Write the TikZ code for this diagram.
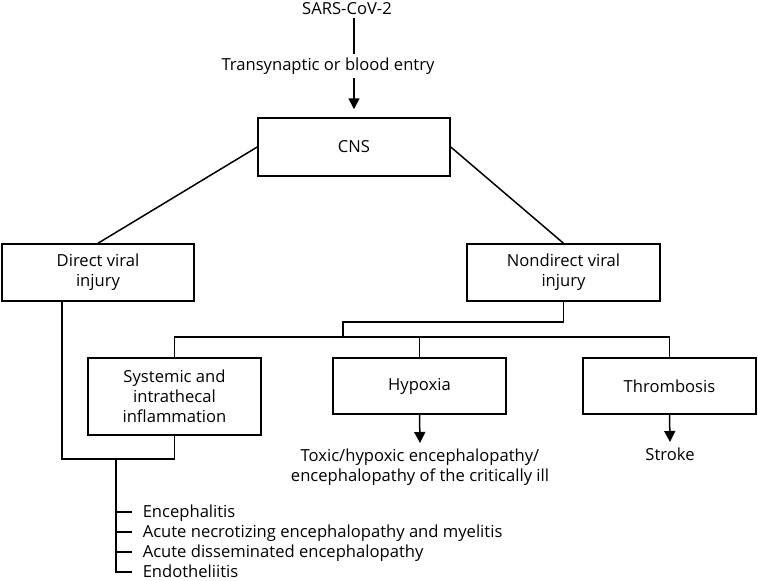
\documentclass[tikz,border=0pt]{standalone}
\usepackage{fontspec}
\setmainfont{Open Sans}
\usetikzlibrary{arrows.meta}
\tikzset{
  box/.style={draw, line width=1.5pt, align=center, minimum height=57pt, inner sep=2pt},
  txt/.style={align=center, inner sep=3pt},
  item/.style={anchor=base west, inner sep=0pt},
  arr/.style={-{Triangle[width=11pt,length=11pt]}, line width=1.5pt}
}
\begin{document}
\begin{tikzpicture}[x=1pt, y=-1pt, font=\fontsize{16.6}{20}\selectfont, line width=1.5pt]
    \useasboundingbox (0,0) rectangle (758,581);
    \node[txt, anchor=base] (sars) at (347,14) {SARS-CoV-2};
    \node[txt, anchor=base] (entry) at (328,70) {Transynaptic or blood entry};
    \node[box, minimum width=192pt, minimum height=58pt] (cns) at (354,147) {CNS};
    \node[box, minimum width=192pt] (direct) at (98,272.5) {Direct viral\\injury};
    \node[box, minimum width=193pt] (nondirect) at (563.5,272.5) {Nondirect viral\\injury};
    \node[box, minimum width=173pt, minimum height=77pt] (systemic) at (174.5,396.5) {Systemic and\\intrathecal\\inflammation};
    \node[box, minimum width=173pt, minimum height=56pt] (hypoxia) at (419.5,386) {Hypoxia};
    \node[box, minimum width=173pt, minimum height=56pt] (thrombosis) at (669.5,386) {Thrombosis};
    \node[txt, anchor=north] (toxic) at (420,445) {Toxic/hypoxic encephalopathy/\\encephalopathy of the critically ill};
    \node[txt, anchor=north] (stroke) at (670,444) {Stroke};
    \node[item] (enc) at (142,517) {Encephalitis};
    \node[item] (anem) at (142,537) {Acute necrotizing encephalopathy and myelitis};
    \node[item] (adem) at (142,557) {Acute disseminated encephalopathy};
    \node[item] (endo) at (142,577) {Endotheliitis};
    \coordinate (elbow) at (343,322);
    \coordinate (bus) at (343,337);
    \coordinate (jn) at (116,459);
    \draw (sars.south -| cns.north) -- (entry.north -| cns.north);
    \draw[arr] (entry.south -| cns.north) -- ([yshift=8]cns.north);
    \draw (cns.west) -- (direct.north);
    \draw (cns.east) -- (nondirect.north);
    \draw (nondirect.south) |- (elbow) -- (bus);
    \draw (systemic.north) |- (bus) -| (thrombosis.north);
    \draw (bus -| hypoxia.north) -- (hypoxia.north);
    \draw[arr] (hypoxia.south) -- ([yshift=2]toxic.north);
    \draw[arr] (thrombosis.south) -- ([yshift=2]stroke.north);
    \draw ([xshift=-36]direct.south) |- (jn) -| (systemic.south);
    \draw (jn) |- ([xshift=-10,yshift=5]endo.base west);
    \foreach \i in {enc,anem,adem}
        \draw ([yshift=5]jn |- \i.base west) -- ([xshift=-10,yshift=5]\i.base west);
\end{tikzpicture}
\end{document}
